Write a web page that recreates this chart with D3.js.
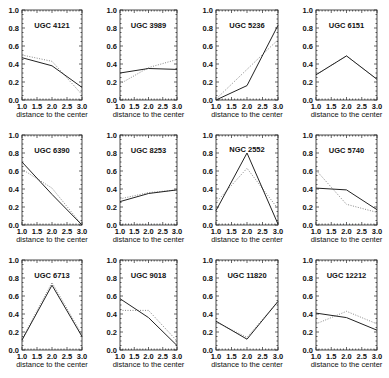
<!DOCTYPE html>
<html>
<head>
<meta charset="utf-8">
<script src="https://cdn.jsdelivr.net/npm/d3@7"></script>
<style>
  body { margin: 0; background: #fff; }
  .tick-label { font-family: "Liberation Sans", Arial, sans-serif; font-size: 7.5px; font-weight: bold; fill: #111; }
  .axis-title { font-family: "Liberation Sans", Arial, sans-serif; font-size: 7.5px; fill: #111; }
  .panel-title { font-family: "Liberation Sans", Arial, sans-serif; font-size: 7.5px; font-weight: bold; fill: #111; }
</style>
</head>
<body>
<svg id="chart" width="389" height="378"></svg>
<script>
const galaxies = ["UGC 4121", "UGC 3989", "UGC 5236", "UGC 6151",
                  "UGC 6390", "UGC 8253", "NGC 2552", "UGC 5740",
                  "UGC 6713", "UGC 9018", "UGC 11820", "UGC 12212"];
const distances = [1.0, 2.0, 3.0];
const solidValues = [
    [0.47, 0.38, 0.14], [0.30, 0.35, 0.34], [0.00, 0.16, 0.83], [0.28, 0.49, 0.23],
    [0.70, 0.34, 0.00], [0.26, 0.35, 0.39], [0.16, 0.80, 0.01], [0.41, 0.39, 0.17],
    [0.11, 0.72, 0.15], [0.57, 0.36, 0.05], [0.32, 0.12, 0.54], [0.41, 0.36, 0.22]
];
const dottedValues = [
    [0.50, 0.43, 0.06], [0.18, 0.36, 0.45], [0.01, 0.34, 0.67], [0.28, 0.49, 0.23],
    [0.62, 0.41, 0.00], [0.29, 0.36, 0.39], [0.25, 0.63, 0.18], [0.61, 0.23, 0.14],
    [0.12, 0.75, 0.17], [0.44, 0.44, 0.10], [0.31, 0.14, 0.54], [0.29, 0.43, 0.29]
];
const xTicks = [1.0, 1.5, 2.0, 2.5, 3.0];
const yTicks = [0.0, 0.2, 0.4, 0.6, 0.8, 1.0];

const svg = d3.select("#chart");
const colLeft = [22, 120, 216, 316];
const colWidth = [60, 57, 62, 61];
const rowTop = [10, 135, 260];
const plotHeight = 90;

galaxies.forEach(function (name, i) {
    const col = i % 4;
    const row = Math.floor(i / 4);
    const left = colLeft[col];
    const top = rowTop[row];
    const w = colWidth[col];

    const xScale = d3.scaleLinear().domain([1, 3]).range([0, w]);
    const yScale = d3.scaleLinear().domain([0, 1]).range([plotHeight, 0]);

    const g = svg.append("g").attr("transform", `translate(${left}, ${top})`);

    // frame
    g.append("rect")
        .attr("width", w)
        .attr("height", plotHeight)
        .attr("fill", "none")
        .attr("stroke", "#222")
        .attr("stroke-width", 0.8);

    // inward ticks on all sides
    const xMinor = d3.range(1, 3.001, 0.1);
    const yMinor = d3.range(0, 1.001, 0.05);
    xMinor.forEach(function (v) {
        const major = Math.abs(v * 2 - Math.round(v * 2)) < 1e-6;
        const len = major ? 3 : 1.5;
        g.append("line").attr("x1", xScale(v)).attr("x2", xScale(v))
            .attr("y1", plotHeight).attr("y2", plotHeight - len)
            .attr("stroke", "#222").attr("stroke-width", 0.7);
        g.append("line").attr("x1", xScale(v)).attr("x2", xScale(v))
            .attr("y1", 0).attr("y2", len)
            .attr("stroke", "#222").attr("stroke-width", 0.7);
    });
    yMinor.forEach(function (v) {
        const major = Math.abs(v * 5 - Math.round(v * 5)) < 1e-6;
        const len = major ? 3 : 1.5;
        g.append("line").attr("x1", 0).attr("x2", len)
            .attr("y1", yScale(v)).attr("y2", yScale(v))
            .attr("stroke", "#222").attr("stroke-width", 0.7);
        g.append("line").attr("x1", w).attr("x2", w - len)
            .attr("y1", yScale(v)).attr("y2", yScale(v))
            .attr("stroke", "#222").attr("stroke-width", 0.7);
    });

    // tick labels
    g.selectAll(".ylab")
        .data(yTicks)
        .join("text")
        .attr("class", "tick-label")
        .attr("x", -3)
        .attr("y", function (d) { return yScale(d) + 2.5; })
        .attr("text-anchor", "end")
        .text(function (d) { return d.toFixed(1); });

    g.selectAll(".xlab")
        .data(xTicks)
        .join("text")
        .attr("class", "tick-label")
        .attr("x", function (d) { return xScale(d); })
        .attr("y", plotHeight + 9)
        .attr("text-anchor", "middle")
        .text(function (d) { return d.toFixed(1); });

    g.append("text")
        .attr("class", "axis-title")
        .attr("x", w / 2)
        .attr("y", plotHeight + 17)
        .attr("text-anchor", "middle")
        .text("distance to the center");

    g.append("text")
        .attr("class", "panel-title")
        .attr("x", w / 2)
        .attr("y", name === "NGC 2552" ? 17 : 18)
        .attr("text-anchor", "middle")
        .text(name);

    const line = d3.line()
        .x(function (d, j) { return xScale(distances[j]); })
        .y(function (d) { return yScale(d); });

    g.append("path")
        .datum(dottedValues[i])
        .attr("fill", "none")
        .attr("stroke", "#888")
        .attr("stroke-width", 1)
        .attr("stroke-dasharray", "1,1.5")
        .attr("d", line);

    g.append("path")
        .datum(solidValues[i])
        .attr("fill", "none")
        .attr("stroke", "#222")
        .attr("stroke-width", 1)
        .attr("d", line);
});
</script>
</body>
</html>
